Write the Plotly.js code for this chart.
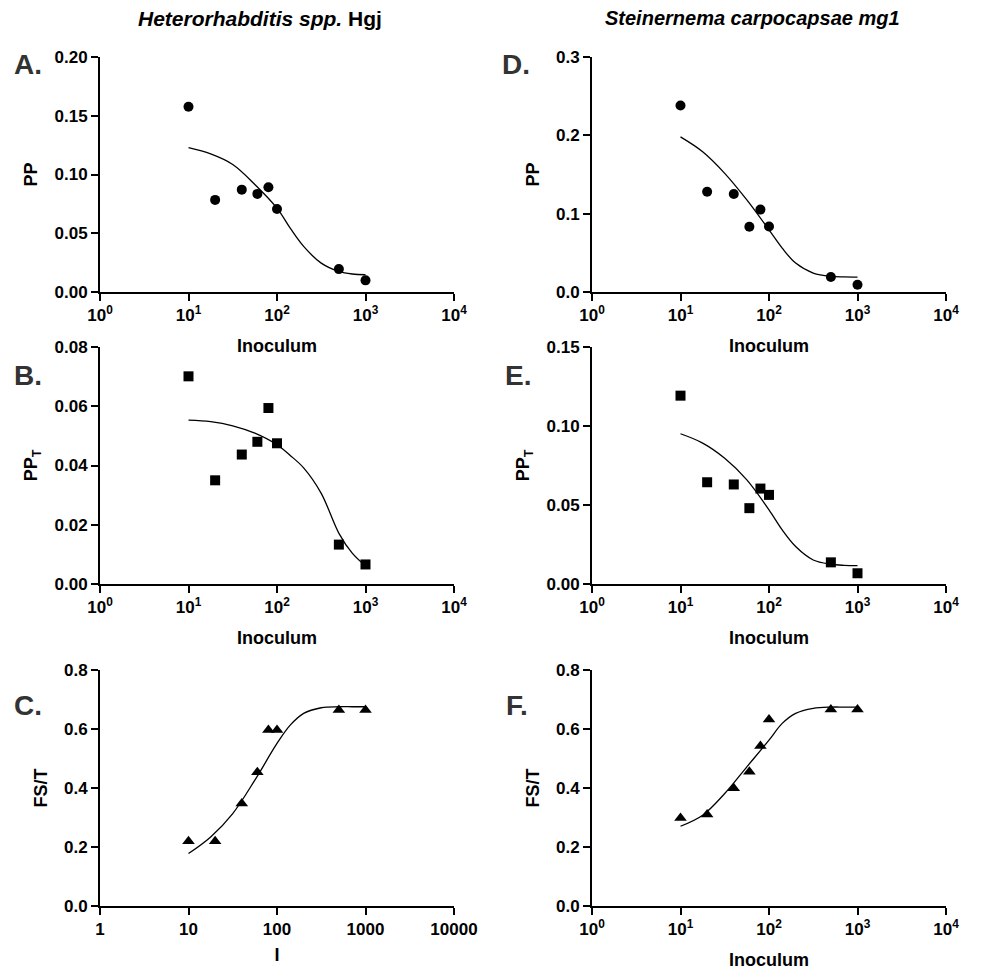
<!DOCTYPE html>
<html>
<head>
<meta charset="utf-8">
<script src="https://cdn.plot.ly/plotly-3.0.1.min.js"></script>
<style>html,body{margin:0;padding:0;background:#fff;}#chart{width:982px;height:970px;}</style>
</head>
<body>
<div id="chart"></div>
<script>
// ---- data ----
const inoculum = [10, 20, 40, 60, 80, 100, 500, 1000];
const ppHet   = [0.1576, 0.0784, 0.0871, 0.0835, 0.0891, 0.0707, 0.0195, 0.0099];
const ppTHet  = [0.0701, 0.0350, 0.0437, 0.0480, 0.0594, 0.0475, 0.0133, 0.0066];
const fstHet  = [0.2195, 0.2195, 0.3474, 0.4537, 0.5963, 0.5963, 0.6640, 0.6640];
const ppSte   = [0.2380, 0.1280, 0.1252, 0.0832, 0.1052, 0.0836, 0.0191, 0.0093];
const ppTSte  = [0.1192, 0.0644, 0.0630, 0.0480, 0.0604, 0.0564, 0.0137, 0.0068];
const fstSte  = [0.2987, 0.3100, 0.3994, 0.4549, 0.5420, 0.6325, 0.6665, 0.6665];

// fitted curves
const fitX      = [10, 17.8, 31.6, 56.2, 100, 141, 200, 316, 501, 708, 1000];
const fitPPHet  = [0.1228, 0.1175, 0.1085, 0.0915, 0.0713, 0.0543, 0.0388, 0.0246, 0.0175, 0.0153, 0.0147];
const fitPPTHet = [0.0553, 0.0548, 0.0534, 0.0509, 0.0470, 0.0434, 0.0392, 0.0306, 0.0171, 0.0104, 0.0061];
const fitFSTHet = [0.1777, 0.2340, 0.3134, 0.4266, 0.5510, 0.6130, 0.6530, 0.6720, 0.6755, 0.6755, 0.6755];
const fitPPSte  = [0.1980, 0.1790, 0.1515, 0.1175, 0.0793, 0.0560, 0.0369, 0.0242, 0.0199, 0.0193, 0.0191];
const fitPPTSte = [0.0951, 0.0892, 0.0796, 0.0659, 0.0469, 0.0342, 0.0237, 0.0152, 0.0125, 0.0118, 0.0116];
const fitFSTSte = [0.2704, 0.3078, 0.3813, 0.4718, 0.5624, 0.6190, 0.6530, 0.6700, 0.6743, 0.6743, 0.6743];

const xTickVals = [1, 10, 100, 1000, 10000];
const xTickPow  = ['10<sup>0</sup>', '10<sup>1</sup>', '10<sup>2</sup>', '10<sup>3</sup>', '10<sup>4</sup>'];
const xTickPlain = ['1', '10', '100', '1000', '10000'];

const yTicksPPHet  = [0, 0.05, 0.10, 0.15, 0.20];
const yTextPPHet   = ['0.00', '0.05', '0.10', '0.15', '0.20'];
const yTicksPPTHet = [0, 0.02, 0.04, 0.06, 0.08];
const yTextPPTHet  = ['0.00', '0.02', '0.04', '0.06', '0.08'];
const yTicksFST    = [0, 0.2, 0.4, 0.6, 0.8];
const yTextFST     = ['0.0', '0.2', '0.4', '0.6', '0.8'];
const yTicksPPSte  = [0, 0.1, 0.2, 0.3];
const yTextPPSte   = ['0.0', '0.1', '0.2', '0.3'];
const yTicksPPTSte = [0, 0.05, 0.10, 0.15];
const yTextPPTSte  = ['0.00', '0.05', '0.10', '0.15'];

const colTitles = ['<i>Heterorhabditis spp.</i> Hgj', '<i>Steinernema carpocapsae mg1</i>'];
const panelLetters = ['A.', 'B.', 'C.', 'D.', 'E.', 'F.'];

// ---- build ----
const FONT = 'Arial, "Liberation Sans", Helvetica, sans-serif';
const panels = [
  {pts: ppHet,  fit: fitPPHet,  sym: 'circle',      yt: yTicksPPHet,  ytt: yTextPPHet,  ymax: 0.20, ytitle: 'PP',             xtt: xTickPow,   xtitle: 'Inoculum', so: 15},
  {pts: ppTHet, fit: fitPPTHet, sym: 'square',      yt: yTicksPPTHet, ytt: yTextPPTHet, ymax: 0.08, ytitle: 'PP<sub>T</sub>', xtt: xTickPow,   xtitle: 'Inoculum', so: 15},
  {pts: fstHet, fit: fitFSTHet, sym: 'triangle-up', yt: yTicksFST,    ytt: yTextFST,    ymax: 0.8,  ytitle: 'FS/T',           xtt: xTickPlain, xtitle: 'I',        so: 10},
  {pts: ppSte,  fit: fitPPSte,  sym: 'circle',      yt: yTicksPPSte,  ytt: yTextPPSte,  ymax: 0.3,  ytitle: 'PP',             xtt: xTickPow,   xtitle: 'Inoculum', so: 15},
  {pts: ppTSte, fit: fitPPTSte, sym: 'square',      yt: yTicksPPTSte, ytt: yTextPPTSte, ymax: 0.15, ytitle: 'PP<sub>T</sub>', xtt: xTickPow,   xtitle: 'Inoculum', so: 15},
  {pts: fstSte, fit: fitFSTSte, sym: 'triangle-up', yt: yTicksFST,    ytt: yTextFST,    ymax: 0.8,  ytitle: 'FS/T',           xtt: xTickPow,   xtitle: 'Inoculum', so: 15}
];

const W = 982, H = 970;
const colX = [[100, 454], [592, 946]];
const rowY = [[57, 292], [347, 584], [670, 906]];
const letterPos = [[28, 65], [28, 376], [28, 705], [516, 65], [518, 376], [517, 705]];

const traces = [];
const layout = {
  width: W, height: H,
  margin: {l: 0, r: 0, t: 0, b: 0},
  paper_bgcolor: '#fff', plot_bgcolor: '#fff',
  showlegend: false,
  font: {family: FONT, color: '#000'},
  annotations: []
};

panels.forEach((p, i) => {
  const col = Math.floor(i / 3), row = i % 3;
  const n = i + 1;
  const xa = 'x' + (n === 1 ? '' : n), ya = 'y' + (n === 1 ? '' : n);
  traces.push({
    x: fitX, y: p.fit, xaxis: xa, yaxis: ya, mode: 'lines', type: 'scatter',
    line: {color: '#000', width: 1.3, shape: 'spline'}, hoverinfo: 'skip'
  });
  traces.push({
    x: inoculum, y: p.pts, xaxis: xa, yaxis: ya, mode: 'markers', type: 'scatter',
    marker: {symbol: p.sym, size: p.sym === 'triangle-up' ? 11 : 10, color: '#000'},
    cliponaxis: false
  });
  const xk = 'xaxis' + (n === 1 ? '' : n), yk = 'yaxis' + (n === 1 ? '' : n);
  layout[xk] = {
    type: 'log', range: [0, 4], domain: [colX[col][0] / W, colX[col][1] / W],
    anchor: ya, tickvals: xTickVals, ticktext: p.xtt,
    showline: true, linecolor: '#000', linewidth: 2, mirror: false,
    ticks: 'outside', ticklen: 7, tickwidth: 2, tickcolor: '#000',
    showgrid: false, zeroline: false, fixedrange: true,
    tickfont: {family: FONT, size: 17, weight: 'bold', color: '#000'},
    title: {text: p.xtitle, font: {family: FONT, size: 18, weight: 'bold', color: '#000'}, standoff: p.so}
  };
  layout[yk] = {
    range: [0, p.ymax], domain: [1 - rowY[row][1] / H, 1 - rowY[row][0] / H],
    anchor: xa, tickvals: p.yt, ticktext: p.ytt,
    showline: true, linecolor: '#000', linewidth: 2,
    ticks: 'outside', ticklen: 7, tickwidth: 2, tickcolor: '#000',
    showgrid: false, zeroline: false, fixedrange: true,
    tickfont: {family: FONT, size: 17, weight: 'bold', color: '#000'},
    title: {text: p.ytitle, font: {family: FONT, size: 18, weight: 'bold', color: '#000'}, standoff: 12}
  };
  layout.annotations.push({
    text: panelLetters[i], xref: 'paper', yref: 'paper',
    x: letterPos[i][0] / W, y: 1 - letterPos[i][1] / H,
    xanchor: 'center', yanchor: 'middle', showarrow: false,
    font: {family: FONT, size: 28, weight: 'bold', color: '#333'}
  });
});

layout.annotations.push({
  text: colTitles[0], xref: 'paper', yref: 'paper', x: 260 / W, y: 1 - 18 / H,
  xanchor: 'center', yanchor: 'middle', showarrow: false,
  font: {family: FONT, size: 21, weight: 'bold', color: '#000'}
});
layout.annotations.push({
  text: colTitles[1], xref: 'paper', yref: 'paper', x: 752 / W, y: 1 - 18 / H,
  xanchor: 'center', yanchor: 'middle', showarrow: false,
  font: {family: FONT, size: 20, weight: 'bold', color: '#000'}
});

Plotly.newPlot('chart', traces, layout, {staticPlot: true, displayModeBar: false});
</script>
</body>
</html>
